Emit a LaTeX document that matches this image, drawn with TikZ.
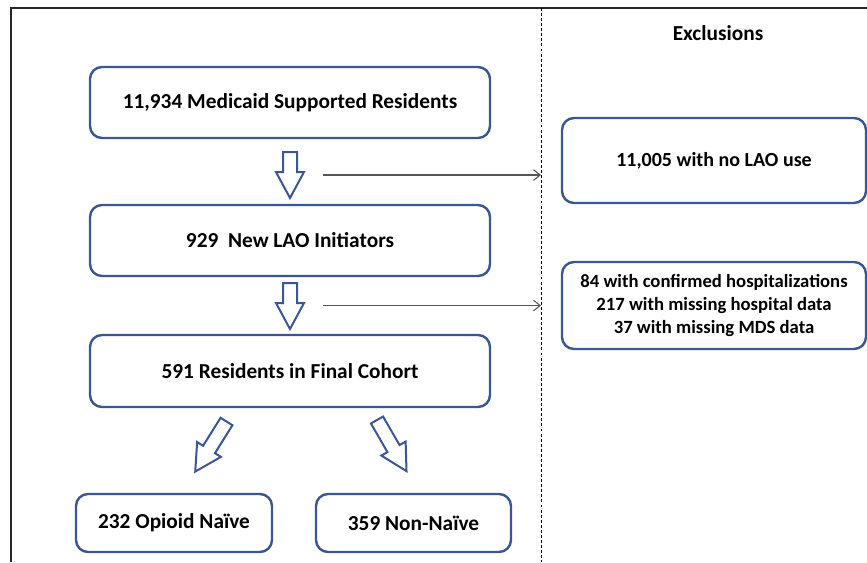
\documentclass[tikz,border=0pt]{standalone}
\usepackage{fontspec}
\setmainfont{Carlito}
\usetikzlibrary{arrows.meta}
\definecolor{boxblue}{RGB}{58,86,150}
\definecolor{thingray}{RGB}{85,85,85}
\begin{document}
\begin{tikzpicture}[x=0.75pt,y=-0.75pt,
  flowbox/.style={draw=boxblue,line width=1.8pt,rounded corners=9pt,fill=white,
    font=\fontsize{16}{19}\selectfont\bfseries,align=center,inner sep=0pt},
  exbox/.style={flowbox,font=\fontsize{14}{17.25}\selectfont\bfseries},
  thinarrow/.style={draw=thingray,line width=0.8pt,-{Straight Barb[length=5pt,width=8pt]}},
  blockarrow/.pic={
    \draw[boxblue,line width=1.5pt,fill=white,line join=miter]
      (-7,0) -- (7,0) -- (7,#1-26) -- (14,#1-26) -- (0,#1) -- (-14,#1-26) -- (-7,#1-26) -- cycle;
  }]
\useasboundingbox (0,0) rectangle (867,562);
% frame
\draw[line width=2pt,black!85] (11,562) -- (11,8) -- (867,8);
% dashed separator
\draw[line width=0.6pt,dash pattern=on 2.2pt off 1.6pt] (541,8) -- (541,562);
% title
\node[font=\fontsize{16}{19}\selectfont\bfseries] (title) at (718,33) {Exclusions};
% main boxes
\node[flowbox,minimum width=300pt,minimum height=53.25pt] (b1) at (290,102.5) {11,934 Medicaid Supported Residents};
\node[flowbox,minimum width=300pt,minimum height=53.25pt] (b2) at (290,240.5) {929\ \ New LAO Initiators};
\node[flowbox,minimum width=300pt,minimum height=54pt] (b3) at (290,371) {591 Residents in Final Cohort};
\node[flowbox,minimum width=147pt,minimum height=43.5pt] (b4) at (174,523) {232 Opioid Naïve};
\node[flowbox,minimum width=146.25pt,minimum height=43.5pt] (b5) at (413.5,523) {359 Non-Naïve};
% exclusion boxes
\node[exbox,font=\fontsize{15}{18}\selectfont\bfseries,minimum width=228pt,minimum height=63.75pt] (e1) at (714,160.5) {11,005 with no LAO use};
\node[exbox,minimum width=228pt,minimum height=65.25pt] (e2) at (714,305.5) {84 with confirmed hospitalizations\\217 with missing hospital data\\37 with missing MDS data};
% block arrows
\pic at (290,152) {blockarrow=46};
\pic at (290,283) {blockarrow=46};
\pic[rotate=-32] at (226.5,421.5) {blockarrow=59};
\pic[rotate=30] at (377,420) {blockarrow=59};
% thin exclusion arrows
\coordinate (s1) at (323,175);
\coordinate (t1) at (541,175);
\coordinate (s2) at (323,305.5);
\coordinate (t2) at (541,305.5);
\draw[thinarrow] (s1) -- (t1);
\draw[thinarrow] (s2) -- (t2);
\end{tikzpicture}
\end{document}
